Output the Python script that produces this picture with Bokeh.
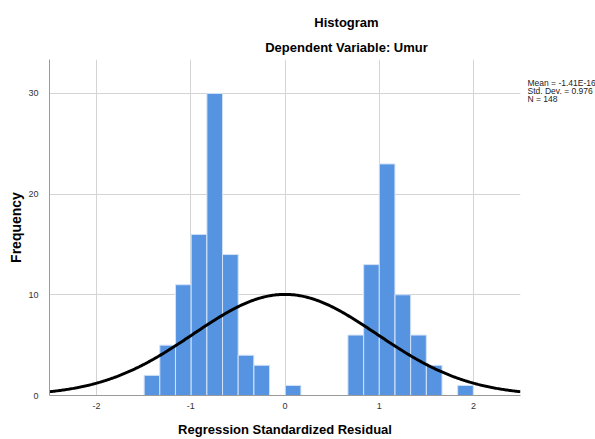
import numpy as np
from bokeh.plotting import figure
from bokeh.layouts import column, row
from bokeh.models import Range1d, FixedTicker, ColumnDataSource
from bokeh.core.properties import value
from bokeh.embed import file_html
from bokeh.resources import INLINE

# ---- data ----
bin_left = [-1.495, -1.329, -1.162, -0.996, -0.829, -0.663, -0.497, -0.330,
            0.003, 0.668, 0.835, 1.001, 1.168, 1.334, 1.501, 1.833]
bin_width = 0.166
counts = [2, 5, 11, 16, 30, 14, 4, 3, 1, 6, 13, 23, 10, 6, 3, 1]
stat_mean = -1.41e-16
stat_std = 0.976
stat_n = 148
x_ticks = [-2, -1, 0, 1, 2]
y_ticks = [0, 10, 20, 30]
title_text = "Histogram"
subtitle_text = "Dependent Variable: Umur"
x_label = "Regression Standardized Residual"
y_label = "Frequency"
stats_lines = ["Mean = -1.41E-16", "Std. Dev. = 0.976", "N = 148"]

FONT = "Liberation Sans"
TOP_H = 59
MAIN_W = 527
BODY_H = 439 - TOP_H


def bare(fig):
    fig.outline_line_color = None
    fig.grid.visible = False
    fig.background_fill_color = "white"
    fig.border_fill_color = "white"


# ---- title strip ----
pt = figure(width=595, height=TOP_H, output_backend="svg", toolbar_location=None,
            x_range=Range1d(0, 595), y_range=Range1d(TOP_H, 0),
            x_axis_location=None, y_axis_location=None,
            min_border=0)
bare(pt)
pt.text(x=[346, 346], y=[22, 47], text=[title_text, subtitle_text],
        text_align="center", text_baseline="middle",
        text_font=value(FONT), text_font_size="13px", text_font_style="bold",
        text_color="black")

# ---- main histogram ----
p = figure(width=MAIN_W, height=BODY_H, output_backend="svg", toolbar_location=None,
           x_range=Range1d(-2.5, 2.5), y_range=Range1d(0, 33.37),
           min_border_left=49, min_border_right=7,
           min_border_top=0, min_border_bottom=44)
p.outline_line_color = None
p.background_fill_color = "white"

p.xgrid.ticker = FixedTicker(ticks=x_ticks)
p.ygrid.ticker = FixedTicker(ticks=[t for t in y_ticks if t > 0])
p.xgrid.grid_line_color = "#d4d4d4"
p.ygrid.grid_line_color = "#d4d4d4"

for ax, ticks in ((p.xaxis, x_ticks), (p.yaxis, y_ticks)):
    ax.ticker = FixedTicker(ticks=ticks)
    ax.major_label_overrides = {t: str(t) for t in ticks}
    ax.major_tick_line_color = None
    ax.minor_tick_line_color = None
    ax.axis_line_color = "#9a9a9a"
    ax.major_label_text_font = FONT
    ax.major_label_text_font_size = "9px"
    ax.major_label_text_color = "#333333"
    ax.axis_label_text_font = FONT
    ax.axis_label_text_font_style = "bold"
    ax.axis_label_text_color = "black"
p.xaxis.major_label_standoff = 1
p.yaxis.major_label_standoff = 5
p.xaxis.axis_label = x_label
p.yaxis.axis_label = y_label
p.xaxis.axis_label_text_font_size = "13px"
p.yaxis.axis_label_text_font_size = "14px"
p.xaxis.axis_label_standoff = 10
p.yaxis.axis_label_standoff = 1

src = ColumnDataSource(dict(
    left=bin_left,
    right=[l + bin_width for l in bin_left],
    top=counts,
    bottom=[0] * len(counts),
))
p.quad(left="left", right="right", top="top", bottom="bottom", source=src,
       fill_color="#5694e2", line_color="#d2e2f7", line_width=1)

xs = np.linspace(-2.5, 2.5, 400)
ys = stat_n * bin_width / (stat_std * np.sqrt(2 * np.pi)) * np.exp(-0.5 * ((xs - stat_mean) / stat_std) ** 2)
p.line(xs, ys, line_color="black", line_width=3)

# ---- side stats strip ----
ps = figure(width=595 - MAIN_W, height=BODY_H, output_backend="svg", toolbar_location=None,
            x_range=Range1d(0, 595 - MAIN_W), y_range=Range1d(BODY_H, 0),
            x_axis_location=None, y_axis_location=None, min_border=0)
bare(ps)
ps.text(x=[0, 0, 0], y=[27, 36, 45], text=stats_lines,
        text_align="left", text_baseline="middle",
        text_font=value(FONT), text_font_size="8.5px", text_color="#222222")

layout = column(pt, row(p, ps))
open("out.html", "w").write(file_html(layout, INLINE))
